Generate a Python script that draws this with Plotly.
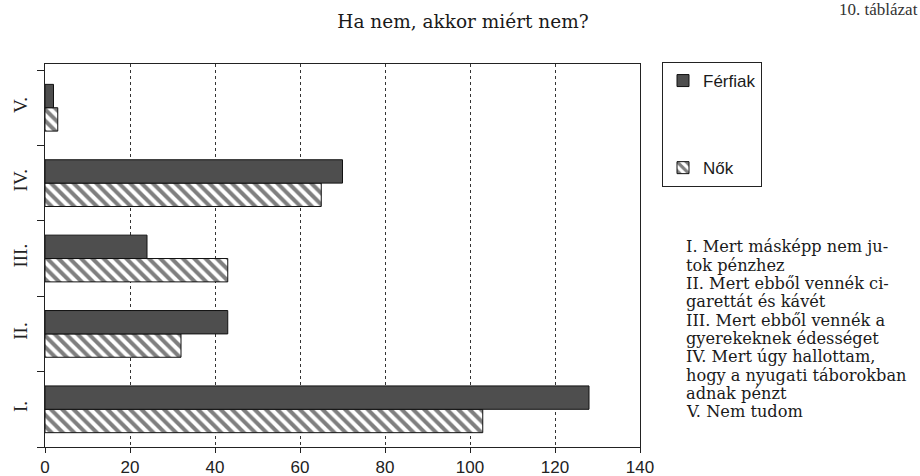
import plotly.graph_objects as go

# ---- data ----
categories = ["I.", "II.", "III.", "IV.", "V."]
ferfiak = [128, 43, 24, 70, 2]
nok = [103, 32, 43, 65, 3]
series_names = ["Férfiak", "Nők"]
x_ticks = [0, 20, 40, 60, 80, 100, 120, 140]
title_text = "Ha nem, akkor miért nem?"
corner_text = "10. táblázat"
side_lines = [
    "I. Mert másképp nem ju-",
    "tok pénzhez",
    "II. Mert ebből vennék ci-",
    "garettát és kávét",
    "III. Mert ebből vennék a",
    "gyerekeknek édességet",
    "IV. Mert úgy hallottam,",
    "hogy a nyugati táborokban",
    "adnak pénzt",
    "V. Nem tudom",
]

W, H = 920, 476
L, R, T, B = 45, 280, 64, 29
plot_w = W - L - R
plot_h = H - T - B

SERIF = "Liberation Serif, Times New Roman, serif"
WSERIF = "DejaVu Serif, serif"
SANS = "Liberation Sans, Arial, sans-serif"

fig = go.Figure()
# Nők first so that it sits below Férfiak inside each group
fig.add_trace(go.Bar(
    y=categories, x=nok, name=series_names[1], orientation="h",
    marker=dict(color="white", line=dict(color="#111", width=1),
                pattern=dict(shape="\\", fgcolor="#000", bgcolor="white",
                             size=8, solidity=0.5)),
    legendgroup="b", legendrank=2,
))
fig.add_trace(go.Bar(
    y=categories, x=ferfiak, name=series_names[0], orientation="h",
    marker=dict(color="#4e4e4e", line=dict(color="#111", width=1)),
    legendgroup="a", legendrank=1,
))

annotations = []
# side explanation text
line_top = 247
line_step = 18.3
for i, txt in enumerate(side_lines):
    py = line_top + i * line_step
    annotations.append(dict(
        text=txt, xref="paper", yref="paper",
        x=(684 - L) / plot_w, y=(H - B - py) / plot_h,
        xanchor="left", yanchor="middle", showarrow=False,
        font=dict(family=WSERIF, size=16.2, color="#1a1a1a"),
    ))
# corner caption
annotations.append(dict(
    text=corner_text, xref="paper", yref="paper",
    x=(920 - L) / plot_w, y=(H - B - 9) / plot_h,
    xanchor="right", yanchor="middle", showarrow=False,
    font=dict(family=SERIF, size=17, color="#333"),
))

fig.update_layout(
    width=W, height=H,
    margin=dict(l=L, r=R, t=T, b=B),
    paper_bgcolor="white", plot_bgcolor="white",
    barmode="group", bargap=0.38, bargroupgap=0.0,
    title=dict(text=title_text, x=463 / W, xanchor="center",
               y=1 - 22 / H, yanchor="middle",
               font=dict(family=WSERIF, size=18.5, color="#1a1a1a")),
    legend=dict(xref="container", yref="container",
                x=662 / W, y=1 - 62 / H, xanchor="left", yanchor="top",
                traceorder="grouped", tracegroupgap=62,
                bordercolor="#222", borderwidth=1, bgcolor="white",
                font=dict(family=SANS, size=17, color="#1a1a1a")),
    annotations=annotations,
    showlegend=True,
)
fig.update_xaxes(
    range=[0, 140], tickvals=x_ticks, ticktext=[str(v) for v in x_ticks],
    showgrid=True, gridcolor="#333", griddash="dot", gridwidth=1,
    showline=True, linecolor="#222", linewidth=1, mirror=True,
    ticks="outside", ticklen=5, tickcolor="#222", ticklabelstandoff=0,
    tickfont=dict(family=SANS, size=17, color="#222"),
    zeroline=False, fixedrange=True, automargin=False,
)
fig.update_yaxes(
    type="category", categoryorder="array", categoryarray=categories,
    range=[-0.5, 4.58], tickson="boundaries",
    showline=True, linecolor="#222", linewidth=1, mirror=True,
    ticks="outside", ticklen=7, tickcolor="#222", ticklabelstandoff=9,
    tickangle=-90, showgrid=False,
    tickfont=dict(family=SERIF, size=19, color="#222"),
    fixedrange=True, automargin=False,
)

fig.write_html("out.html", config={"displayModeBar": False},
               post_script="document.body.style.margin='0';")
